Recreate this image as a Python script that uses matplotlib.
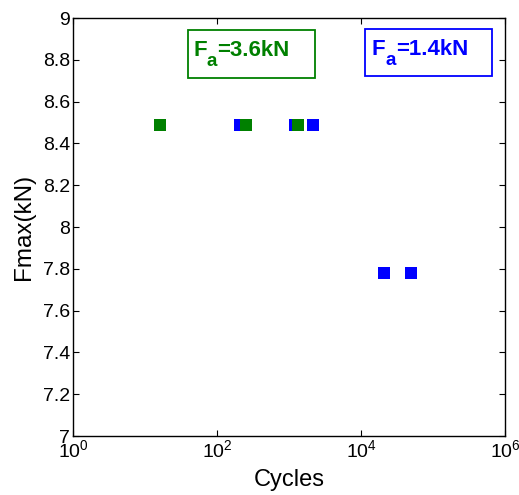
import matplotlib.pyplot as plt
import matplotlib.ticker as mticker
from matplotlib.patches import Rectangle

plt.rcParams['font.family'] = ['Liberation Sans', 'DejaVu Sans']
plt.rcParams['mathtext.fontset'] = 'custom'
plt.rcParams['mathtext.rm'] = 'Liberation Sans'
plt.rcParams['mathtext.it'] = 'Liberation Sans'
plt.rcParams['mathtext.bf'] = 'Liberation Sans:bold'

# series
cycles_36 = [16, 251, 1334]
fmax_36 = [8.49, 8.49, 8.49]
cycles_14 = [209, 1211, 2154, 20900, 49400]
fmax_14 = [8.49, 8.49, 8.49, 7.78, 7.78]

green = '#008000'
blue = '#0000ff'

fig = plt.figure(figsize=(5.19, 4.95), dpi=100)
ax = fig.add_axes([0.1407, 0.119, 0.8323, 0.8446])

ax.plot(cycles_14, fmax_14, 's', color=blue, markersize=8.6, markeredgewidth=0)
ax.plot(cycles_36, fmax_36, 's', color=green, markersize=8.6, markeredgewidth=0)

ax.set_xscale('log')
ax.set_xlim(1, 1e6)
ax.set_ylim(7, 9)
ax.xaxis.set_major_locator(mticker.LogLocator(base=100))
ax.xaxis.set_minor_locator(mticker.NullLocator())
ax.set_yticks([7 + 0.2 * i for i in range(11)])
ax.yaxis.set_major_formatter(mticker.FuncFormatter(lambda v, p: f'{v:g}'))
ax.tick_params(direction='in', length=4, top=True, right=True, labelsize=14, pad=2)
for s in ax.spines.values():
    s.set_linewidth(1.0)

ax.set_xlabel('Cycles', fontsize=17, labelpad=6)
ax.set_ylabel('Fmax(kN)', fontsize=17.5, labelpad=6)


def label_box(x, y, value, color, box):
    # F with a lowered subscript "a", as in the reference
    ax.text(x, y, 'F', transform=ax.transAxes, color=color, fontsize=16,
            fontweight='bold', va='baseline', ha='left')
    ax.annotate('a', (x, y), xycoords='axes fraction', xytext=(9.5, -7),
                textcoords='offset points', color=color, fontsize=13.5,
                fontweight='bold', va='baseline', ha='left')
    ax.annotate('=' + value, (x, y), xycoords='axes fraction', xytext=(17.3, 0),
                textcoords='offset points', color=color, fontsize=16,
                fontweight='bold', va='baseline', ha='left')
    ax.add_patch(Rectangle(box[:2], box[2], box[3], transform=ax.transAxes,
                           fill=False, edgecolor=color, linewidth=1.3))


label_box(0.278, 0.909, '3.6kN', green, (0.266, 0.857, 0.294, 0.114))
label_box(0.692, 0.912, '1.4kN', blue, (0.676, 0.862, 0.294, 0.112))

fig.savefig('out.png', dpi=100)
